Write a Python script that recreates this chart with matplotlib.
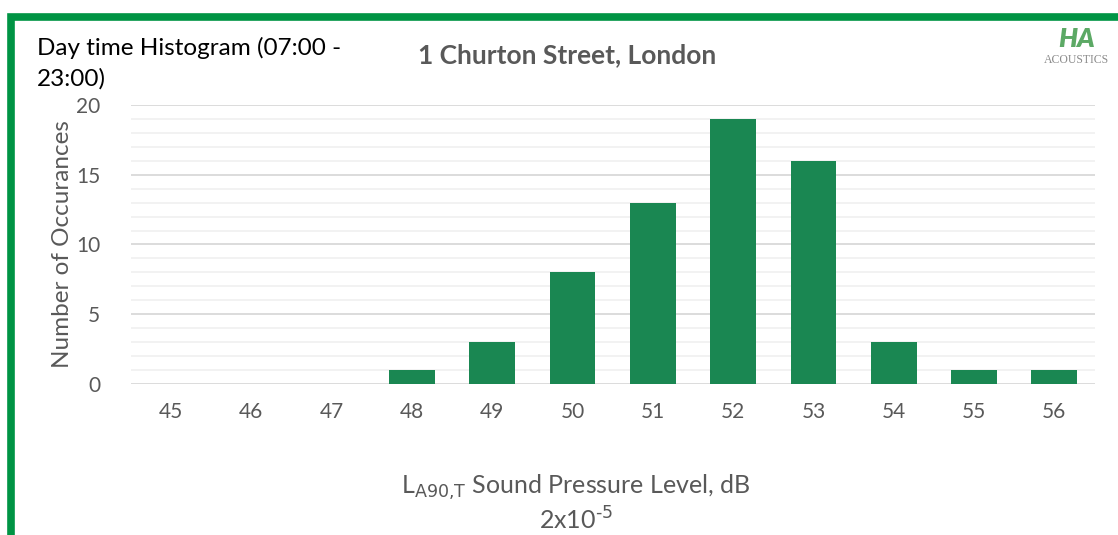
import matplotlib.pyplot as plt
from matplotlib.patches import Rectangle

levels = [45, 46, 47, 48, 49, 50, 51, 52, 53, 54, 55, 56]
counts = [0, 0, 0, 1, 3, 8, 13, 19, 16, 3, 1, 1]

plt.rcParams['font.family'] = ['Lato', 'DejaVu Sans']

fig = plt.figure(figsize=(11.18, 5.35), dpi=100)
ax = fig.add_axes([0.117, 0.282, 0.862, 0.522])

x = list(range(len(levels)))
ax.bar(x, counts, width=0.57, color='#1a8752', zorder=3)

ax.set_xlim(-0.5, len(levels) - 0.5)
ax.set_ylim(0, 20)
ax.set_yticks([0, 5, 10, 15, 20])
ax.set_yticks(range(0, 21), minor=True)
ax.set_xticks(x)
ax.set_xticklabels([str(v) for v in levels])
ax.grid(axis='y', which='major', color='#d9d9d9', linewidth=1.3, zorder=0)
ax.grid(axis='y', which='minor', color='#efefef', linewidth=1.1, zorder=0)
for s in ax.spines.values():
    s.set_visible(False)
ax.tick_params(axis='both', which='both', length=0, labelsize=15, labelcolor='#595959')
ax.tick_params(axis='x', pad=13)
ax.tick_params(axis='y', pad=22)

ax.set_ylabel('Number of Occurances', fontsize=17.5, color='#595959', labelpad=2)

fig.text(0.515, 0.088, r'L$_{\text{A90,T}}$ Sound Pressure Level, dB',
         ha='center', va='center', fontsize=18, color='#595959')
fig.text(0.515, 0.028, r'2x10$^{\text{-5}}$',
         ha='center', va='center', fontsize=18, color='#595959')

fig.text(0.507, 0.897, '1 Churton Street, London', ha='center', va='center',
         fontsize=19, fontweight='bold', color='#595959')
fig.text(0.033, 0.91, 'Day time Histogram (07:00 -', ha='left', va='center',
         fontsize=17.5, color='black')
fig.text(0.033, 0.852, '23:00)', ha='left', va='center',
         fontsize=17.5, color='black')

# logo
fig.text(0.963, 0.928, 'HA', ha='center', va='center', fontsize=19,
         fontweight='heavy', style='italic', color='#3f9a4a', alpha=0.85)
fig.text(0.963, 0.888, 'ACOUSTICS', ha='center', va='center', fontsize=8.5,
         family='Liberation Serif', color='#8c8c8c')

# green frame
fig.patches.append(Rectangle((0.0095, -0.1), 1.1, 1.069, transform=fig.transFigure,
                             fill=False, edgecolor='#009444', linewidth=5.5))

fig.savefig('out.png', dpi=100)
